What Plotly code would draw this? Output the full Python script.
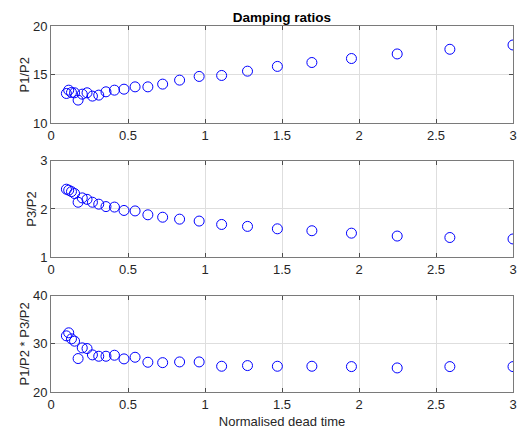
import plotly.graph_objects as go
from plotly.subplots import make_subplots

# Normalised dead time
x_vals = [0.100, 0.115, 0.133, 0.153, 0.176, 0.203, 0.234, 0.269, 0.310, 0.357,
          0.412, 0.474, 0.546, 0.629, 0.725, 0.835, 0.962, 1.108, 1.276, 1.470,
          1.694, 1.951, 2.248, 2.590, 3.000]

p1_p2 = [13.07, 13.41, 13.17, 13.14, 12.39, 13.00, 13.14, 12.80, 12.90, 13.24,
         13.41, 13.51, 13.75, 13.75, 14.03, 14.44, 14.82, 14.92, 15.36, 15.85,
         16.25, 16.66, 17.13, 17.61, 18.05]

p3_p2 = [2.41, 2.39, 2.36, 2.32, 2.14, 2.23, 2.20, 2.14, 2.10, 2.05,
         2.04, 1.97, 1.96, 1.88, 1.83, 1.79, 1.75, 1.68, 1.64, 1.59,
         1.55, 1.50, 1.44, 1.41, 1.38]

prod = [31.67, 32.30, 31.04, 30.56, 26.95, 29.17, 29.03, 27.71, 27.43, 27.43,
        27.64, 26.88, 27.22, 26.18, 26.10, 26.25, 26.25, 25.35, 25.49, 25.35,
        25.35, 25.28, 25.00, 25.28, 25.28]

x_ticks = [0, 0.5, 1, 1.5, 2, 2.5, 3]
x_tick_text = ["0", "0.5", "1", "1.5", "2", "2.5", "3"]
y_titles = ["P1/P2", "P3/P2", "P1/P2 * P3/P2"]
y_ranges = [[10, 20], [1, 3], [20, 40]]
y_ticks = [[10, 15, 20], [1, 2, 3], [20, 30, 40]]

fig = make_subplots(rows=3, cols=1)
series = [p1_p2, p3_p2, prod]
for i, ys in enumerate(series):
    fig.add_trace(go.Scatter(
        x=x_vals, y=ys, mode="markers",
        marker=dict(symbol="circle-open", size=10, color="#0000ff",
                    line=dict(width=1, color="#0000ff")),
        showlegend=False), row=i + 1, col=1)

domains = [[0.734, 1.0], [0.368, 0.632], [0.0, 0.263]]
font_color = "#262626"
fs = 13
for i in range(3):
    xa = "xaxis" if i == 0 else f"xaxis{i+1}"
    ya = "yaxis" if i == 0 else f"yaxis{i+1}"
    fig.layout[xa].update(
        range=[0, 3], tickvals=x_ticks, ticktext=x_tick_text,
        showgrid=True, gridcolor="#dedede", gridwidth=1,
        showline=True, linecolor="#7a7a7a", linewidth=1, mirror="ticks",
        ticks="inside", ticklen=4, tickcolor="#4d4d4d", automargin=False,
        tickfont=dict(size=fs, color=font_color), zeroline=False)
    fig.layout[ya].update(
        domain=domains[i], range=y_ranges[i], tickvals=y_ticks[i],
        showgrid=True, gridcolor="#dedede", gridwidth=1,
        showline=True, linecolor="#7a7a7a", linewidth=1, mirror="ticks",
        ticks="inside", ticklen=4, tickcolor="#4d4d4d", automargin=False,
        tickfont=dict(size=fs, color=font_color), zeroline=False,
        title=dict(text=y_titles[i], font=dict(size=fs, color=font_color), standoff=0))

fig.layout.xaxis3.title = dict(text="Normalised dead time",
                               font=dict(size=fs, color=font_color), standoff=6)

fig.update_layout(
    width=521, height=430,
    margin=dict(l=51, r=8, t=26, b=38),
    paper_bgcolor="white", plot_bgcolor="white",
    font=dict(family="Liberation Sans, Arial, sans-serif", color=font_color),
    title=dict(text="<b>Damping ratios</b>", x=0.5, xanchor="center",
               xref="paper", y=1 - 17 / 430, yanchor="middle",
               font=dict(size=13.5, color="black")),
)

fig.write_html("out.html")
